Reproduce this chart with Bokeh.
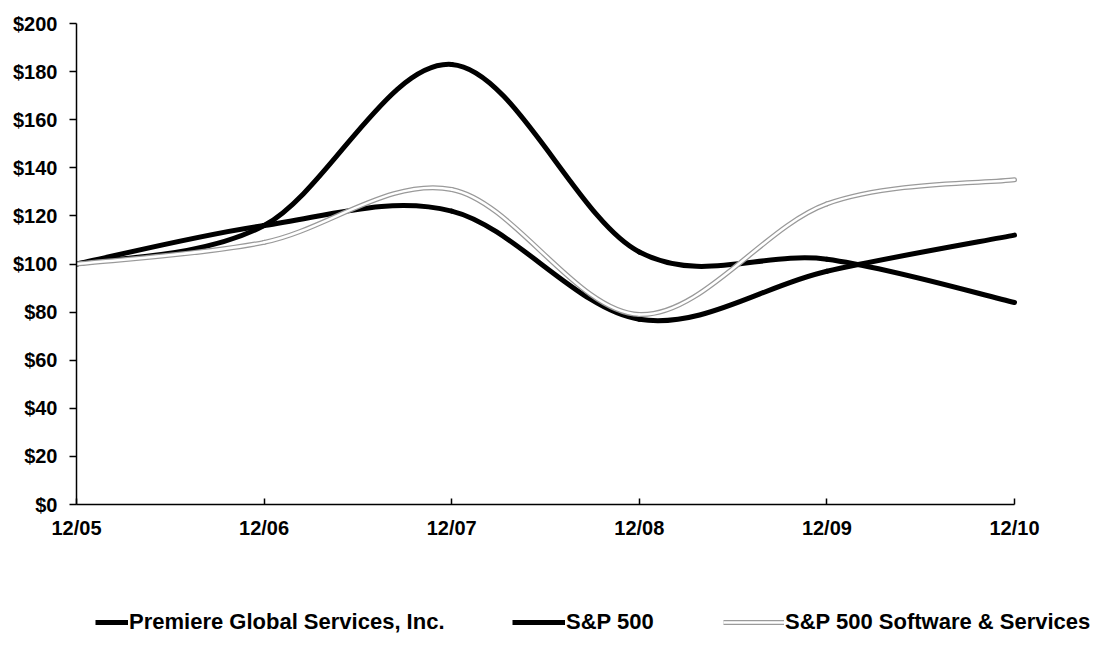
import numpy as np
from bokeh.plotting import figure
from bokeh.layouts import column
from bokeh.models import (Range1d, FixedTicker, Legend, LegendItem, ColumnDataSource)
from bokeh.embed import file_html
from bokeh.resources import INLINE

# ---- data ----
periods = ["12/05", "12/06", "12/07", "12/08", "12/09", "12/10"]
premiere = [100, 116, 183, 105, 102, 84]
sp500 = [100, 116, 122, 77, 97, 112]
sp_software = [100, 109, 131, 79, 125, 135]
y_ticks = [0, 20, 40, 60, 80, 100, 120, 140, 160, 180, 200]
series_names = ["Premiere Global Services, Inc.", "S&P 500", "S&P 500 Software & Services"]

FONT = "Liberation Sans"
W = 1093
LEFT = 76          # frame left (px)
AXIS_RIGHT = 1014  # pixel where the last period sits


def smooth_segments(values):
    """Excel-like smoothed line: Catmull-Rom -> cubic Bezier control points."""
    y = np.asarray(values, dtype=float)
    x = np.arange(len(y), dtype=float)
    xp = np.concatenate([[x[0]], x, [x[-1]]])
    yp = np.concatenate([[y[0]], y, [y[-1]]])
    d = dict(x0=[], y0=[], x1=[], y1=[], cx0=[], cy0=[], cx1=[], cy1=[])
    for i in range(len(y) - 1):
        j = i + 1
        d["x0"].append(xp[j]); d["y0"].append(yp[j])
        d["x1"].append(xp[j + 1]); d["y1"].append(yp[j + 1])
        d["cx0"].append(xp[j] + (xp[j + 1] - xp[j - 1]) / 6)
        d["cy0"].append(yp[j] + (yp[j + 1] - yp[j - 1]) / 6)
        d["cx1"].append(xp[j + 1] - (xp[j + 2] - xp[j]) / 6)
        d["cy1"].append(yp[j + 1] - (yp[j + 2] - yp[j]) / 6)
    return ColumnDataSource(d)


n = len(periods) - 1
x_end = n * (W - LEFT) / (AXIS_RIGHT - LEFT)

p = figure(width=W, height=550, output_backend="svg", toolbar_location=None,
           x_range=Range1d(0, x_end), y_range=Range1d(0, 200),
           min_border_left=LEFT, min_border_right=0, min_border_top=23,
           min_border_bottom=46)
p.outline_line_color = None
p.grid.grid_line_color = None
p.background_fill_color = "white"

BEZ = ["x0", "y0", "x1", "y1", "cx0", "cy0", "cx1", "cy1"]

def bez(src, **kw):
    return p.bezier(*BEZ, source=src, line_cap="round", **kw)

bez(smooth_segments(premiere), line_color="black", line_width=5)
bez(smooth_segments(sp500), line_color="black", line_width=5)
src_sw = smooth_segments(sp_software)
bez(src_sw, line_color="#9a9a9a", line_width=5)
bez(src_sw, line_color="white", line_width=2.5)

# axes
p.xaxis.ticker = FixedTicker(ticks=list(range(len(periods))))
p.xaxis.major_label_overrides = {i: s for i, s in enumerate(periods)}
p.xaxis.bounds = (0, n)
p.yaxis.ticker = FixedTicker(ticks=y_ticks)
p.yaxis.major_label_overrides = {v: f"${v}" for v in y_ticks}
for ax in (p.xaxis, p.yaxis):
    ax.axis_line_color = "black"
    ax.axis_line_width = 1.5
    ax.major_tick_line_color = "black"
    ax.major_tick_line_width = 1.5
    ax.minor_tick_line_color = None
    ax.major_label_text_font = FONT
    ax.major_label_text_font_style = "bold"
    ax.major_label_text_font_size = "20px"
    ax.major_label_text_color = "black"
p.xaxis.major_tick_in = 6
p.xaxis.major_tick_out = 0
p.xaxis.major_label_standoff = 12
p.yaxis.major_tick_in = 0
p.yaxis.major_tick_out = 7
p.yaxis.major_label_standoff = 12

# ---- legend strip (separate figure so it is not clipped) ----
lg = figure(width=W, height=103, output_backend="svg", toolbar_location=None,
            x_range=Range1d(0, W - LEFT), y_range=Range1d(0, 103),
            x_axis_type=None, y_axis_type=None,
            min_border_left=LEFT, min_border_right=0, min_border_top=0,
            min_border_bottom=0)
lg.outline_line_color = None
lg.grid.grid_line_color = None

def proxy(**kw):
    # legend proxy: a line placed outside the visible range
    src = ColumnDataSource(dict(x=[-200, -100], y=[-50, -50]))
    return lg.line(x="x", y="y", source=src, **kw)

l_prem = proxy(line_color="black", line_width=5)
l_sp = proxy(line_color="black", line_width=5)
l_sw1 = proxy(line_color="#9a9a9a", line_width=5)
l_sw2 = proxy(line_color="white", line_width=2.5)

def add_legend(label, renderers, x, width):
    leg = Legend(items=[LegendItem(label=label, renderers=renderers)],
                 location=(x, 18), orientation="horizontal",
                 glyph_width=width, glyph_height=22, label_standoff=1,
                 padding=0, margin=0, spacing=0,
                 border_line_alpha=0, background_fill_alpha=0,
                 label_text_font=FONT, label_text_font_style="bold",
                 label_text_font_size="22px", label_text_color="black")
    lg.add_layout(leg, "center")

add_legend(series_names[0], [l_prem], 95 - LEFT, 33)
add_legend(series_names[1], [l_sp], 512 - LEFT, 53)
add_legend(series_names[2], [l_sw1, l_sw2], 723 - LEFT, 61)

layout = column(p, lg, spacing=0)
open("out.html", "w").write(file_html(layout, INLINE))
